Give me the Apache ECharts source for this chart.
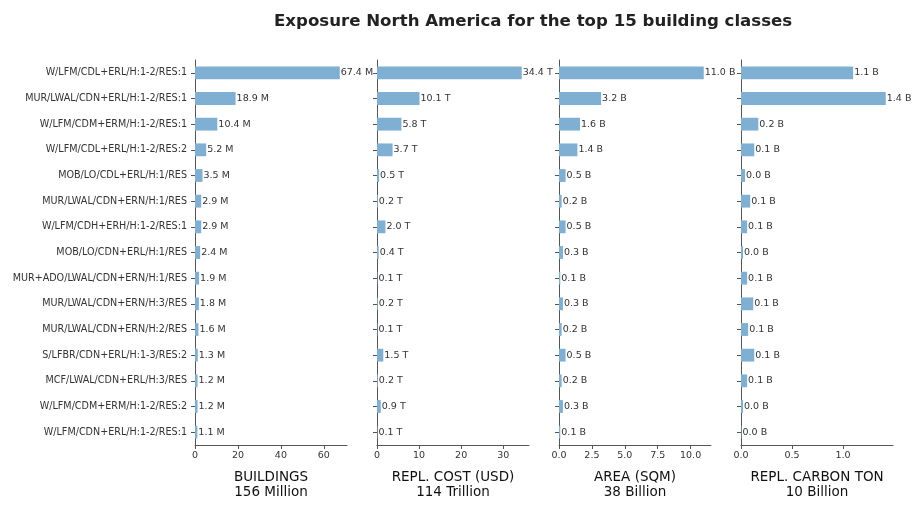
<!DOCTYPE html>
<html>
<head>
<meta charset="utf-8">
<script src="https://cdn.jsdelivr.net/npm/echarts@6/dist/echarts.min.js"></script>
<style>
  html, body { margin: 0; padding: 0; background: #fff; }
  #chart { width: 922px; height: 510px; }
</style>
</head>
<body>
<div id="chart"></div>
<script>
// building classes, top to bottom
const classes = [
  'W/LFM/CDL+ERL/H:1-2/RES:1',
  'MUR/LWAL/CDN+ERL/H:1-2/RES:1',
  'W/LFM/CDM+ERM/H:1-2/RES:1',
  'W/LFM/CDL+ERL/H:1-2/RES:2',
  'MOB/LO/CDL+ERL/H:1/RES',
  'MUR/LWAL/CDN+ERN/H:1/RES',
  'W/LFM/CDH+ERH/H:1-2/RES:1',
  'MOB/LO/CDN+ERL/H:1/RES',
  'MUR+ADO/LWAL/CDN+ERN/H:1/RES',
  'MUR/LWAL/CDN+ERN/H:3/RES',
  'MUR/LWAL/CDN+ERN/H:2/RES',
  'S/LFBR/CDN+ERL/H:1-3/RES:2',
  'MCF/LWAL/CDN+ERL/H:3/RES',
  'W/LFM/CDM+ERM/H:1-2/RES:2',
  'W/LFM/CDN+ERL/H:1-2/RES:1'
];

// values per panel
const buildings = [67.4, 18.9, 10.4, 5.2, 3.5, 2.9, 2.9, 2.4, 1.9, 1.8, 1.6, 1.3, 1.2, 1.2, 1.1];       // million
const replCost = [34.4, 10.1, 5.8, 3.7, 0.5, 0.2, 2.0, 0.4, 0.1, 0.2, 0.1, 1.5, 0.2, 0.9, 0.1];         // trillion USD
const area = [11.0, 3.2, 1.6, 1.4, 0.5, 0.2, 0.5, 0.3, 0.1, 0.3, 0.2, 0.5, 0.2, 0.3, 0.1];              // billion sqm
const carbon = [1.10, 1.42, 0.17, 0.13, 0.04, 0.09, 0.06, 0.02, 0.06, 0.12, 0.07, 0.13, 0.06, 0.02, 0.005]; // billion ton

// x tick labels per panel
const ticksBuildings = [0, 20, 40, 60];
const ticksCost = [0, 10, 20, 30];
const ticksArea = [0, 2.5, 5, 7.5, 10];
const ticksCarbon = [0, 0.5, 1.0];

const panels = [
  { data: buildings, unit: 'M', ticks: ticksBuildings, dec: 0, name: 'BUILDINGS\n156 Million', left: 195 },
  { data: replCost, unit: 'T', ticks: ticksCost, dec: 0, name: 'REPL. COST (USD)\n114 Trillion', left: 377 },
  { data: area, unit: 'B', ticks: ticksArea, dec: 1, name: 'AREA (SQM)\n38 Billion', left: 559 },
  { data: carbon, unit: 'B', ticks: ticksCarbon, dec: 1, name: 'REPL. CARBON TON\n10 Billion', left: 741 }
];

const font = 'DejaVu Sans';
const axisColor = '#555';
const textColor = '#333';

const chart = echarts.init(document.getElementById('chart'));

const grids = [], xAxes = [], yAxes = [], series = [];
panels.forEach(function (p, i) {
  grids.push({ left: p.left, top: 60, width: 152, height: 385 });
  xAxes.push({
    type: 'value',
    gridIndex: i,
    min: 0,
    max: Math.max.apply(null, p.data) * 1.05,
    splitLine: { show: false },
    axisLine: { show: true, lineStyle: { color: axisColor } },
    axisTick: { show: true, length: 4, lineStyle: { color: axisColor }, customValues: p.ticks },
    axisLabel: {
      fontFamily: font, fontSize: 9.5, color: textColor, margin: 6,
      customValues: p.ticks,
      formatter: function (v) { return v.toFixed(p.dec); }
    },
    name: p.name,
    nameLocation: 'middle',
    nameGap: 25,
    nameTextStyle: { fontFamily: font, fontSize: 13.5, color: '#111', lineHeight: 15, verticalAlign: 'top' }
  });
  yAxes.push({
    type: 'category',
    gridIndex: i,
    data: classes,
    inverse: true,
    axisLine: { show: true, lineStyle: { color: axisColor } },
    axisTick: { show: true, alignWithLabel: true, length: 4, lineStyle: { color: axisColor } },
    axisLabel: { show: i === 0, fontFamily: font, fontSize: 9.6, color: textColor, margin: 8 }
  });
  series.push({
    type: 'bar',
    xAxisIndex: i,
    yAxisIndex: i,
    data: p.data,
    barWidth: '50%',
    itemStyle: { color: '#7fb0d3' },
    label: {
      show: true,
      position: 'right',
      distance: 1,
      fontFamily: font,
      fontSize: 9.5,
      color: textColor,
      formatter: function (d) { return d.value.toFixed(1) + ' ' + p.unit; }
    }
  });
});

chart.setOption({
  animation: false,
  title: {
    text: 'Exposure North America for the top 15 building classes',
    left: 269,
    top: 8,
    textStyle: { fontFamily: font, fontSize: 16.6, fontWeight: 'bold', color: '#222' }
  },
  grid: grids,
  xAxis: xAxes,
  yAxis: yAxes,
  series: series
});
window.addEventListener('resize', chart.resize);
</script>
</body>
</html>
